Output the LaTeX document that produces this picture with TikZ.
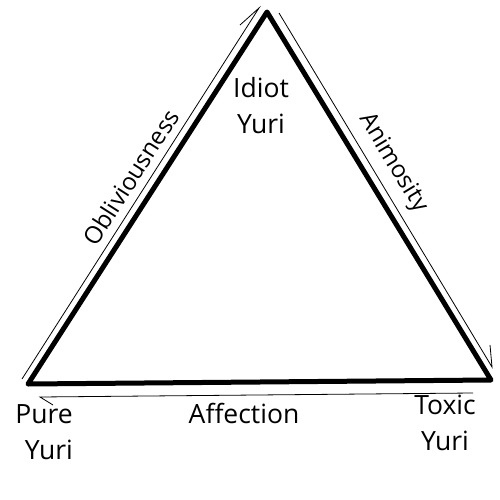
\documentclass[tikz,border=0pt]{standalone}
\usepackage{fontspec}
\setmainfont{Open Sans}
\begin{document}
\begin{tikzpicture}[x=1pt,y=-1pt,
  edge/.style={line width=5pt,line join=round,line cap=round},
  thin/.style={line width=0.8pt},
  lbl/.style={inner sep=0pt,font=\fontsize{26.5}{36}\selectfont,align=center},
  side/.style={inner sep=0pt,font=\fontsize{24}{30}\selectfont}]
\useasboundingbox[fill=white] (0,0) rectangle (500,500);
% vertices
\coordinate (T) at (267,12);
\coordinate (L) at (28,384);
\coordinate (R) at (491,380);
\draw[edge] (T) -- (L) -- (R) -- cycle;
% thin arrows
\coordinate (l1) at (22,379);
\coordinate (l2) at (259,8);
\coordinate (lb) at (240,25);
\coordinate (r1) at (279,13);
\coordinate (r2) at (492,367);
\coordinate (rb) at (490,345);
\coordinate (b1) at (473,393);
\coordinate (b2) at (40,397);
\coordinate (bb) at (53,405);
\draw[thin] (l1) -- (l2) -- (lb);
\draw[thin] (r1) -- (r2) -- (rb);
\draw[thin] (b1) -- (b2) -- (bb);
% labels
\node[lbl] (idiot) at (261,106) {Idiot\\Yuri};
\node[lbl,align=right,anchor=east] (pure) at (73,432) {Pure\\Yuri};
\node[lbl] (toxic) at (445,423) {Toxic\\Yuri};
\node[lbl,anchor=base] (aff) at (244,423) {Affection};
\node[side,rotate=57.4] (obl) at (131,177) {Obliviousness};
\node[side,rotate=-58.8] (ani) at (393,163) {Animosity};
\end{tikzpicture}
\end{document}
